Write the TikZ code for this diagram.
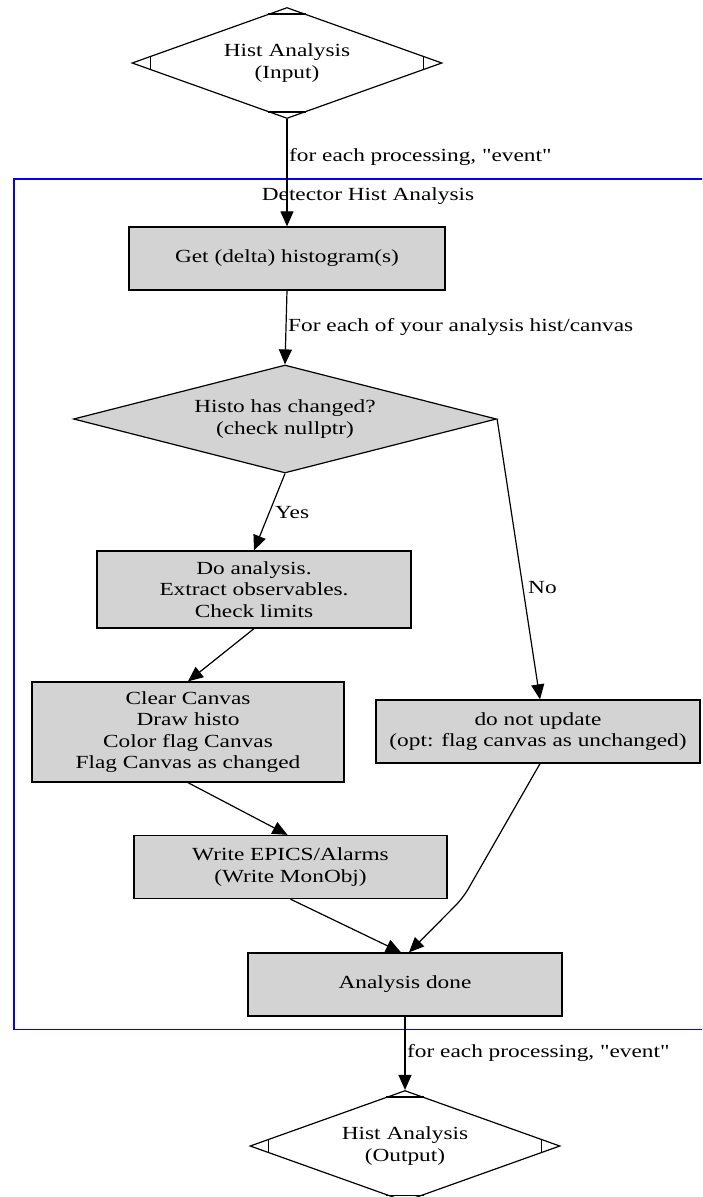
\documentclass[tikz,border=0pt]{standalone}
\usepackage{fontspec}
\setmainfont{Liberation Serif}[FakeStretch=1.26, Ligatures=TeXOff]
\usetikzlibrary{shapes.geometric,arrows.meta,calc}
\definecolor{boxgray}{RGB}{211,211,211}
\definecolor{clusterblue}{RGB}{0,0,255}
\tikzset{
  every node/.style={font=\fontsize{18.5}{21.5}\selectfont},
  stepbox/.style={rectangle, draw=black, line width=1.3pt, fill=boxgray,
                  inner sep=0pt, align=center},
  iodiamond/.style={diamond, draw=black, line width=1.2pt, inner sep=0pt,
                    aspect=2.8, align=center,
                    minimum width=310pt, minimum height=111pt},
  decision/.style={diamond, draw=black, line width=1.2pt, fill=boxgray,
                   inner sep=0pt, aspect=3.9, align=center,
                   minimum width=423pt, minimum height=108pt},
  flow/.style={draw=black, line width=1.2pt,
               -{Triangle[length=15pt,width=13pt]}},
  edgelabel/.style={anchor=west, inner sep=0pt},
}
\begin{document}
\begin{tikzpicture}[x=1pt, y=-1pt]
  \useasboundingbox (0,0) rectangle (702,1197);
  \clip (0,0) rectangle (702,1197);

  % cluster frame and its title
  \draw[clusterblue, line width=1.6pt] (14,179) rectangle (722,1029.5);
  \node (clustertitle) at (368,196) {Detector Hist Analysis};

  % nodes
  \node[iodiamond] (in) at (287,63) {Hist Analysis\\(Input)};
  \node[stepbox, minimum width=316pt, minimum height=63pt] (get) at (287,258.5)
    {Get (delta) histogram(s)};
  \node[decision] (dec) at (285,419) {Histo has changed?\\(check nullptr)};
  \node[stepbox, minimum width=314pt, minimum height=77pt] (doan) at (254,589.5)
    {Do analysis.\\Extract observables.\\Check limits};
  \node[stepbox, minimum width=312pt, minimum height=100pt] (clear) at (188,732)
    {Clear Canvas\\Draw histo\\Color flag Canvas\\Flag Canvas as changed};
  \node[stepbox, minimum width=324pt, minimum height=63pt] (noup) at (538,731.5)
    {do not update\\(opt: flag canvas as unchanged)};
  \node[stepbox, minimum width=313pt, minimum height=63pt] (write) at (290.5,867)
    {Write EPICS/Alarms\\(Write MonObj)};
  \node[stepbox, minimum width=314pt, minimum height=63pt] (done) at (405,984.5)
    {Analysis done};
  \node[iodiamond] (out) at (405,1146) {Hist Analysis\\(Output)};

  % corner marks of the input/output diamonds
  \foreach \d in {in,out} {
    \draw[line width=1.2pt] ($(\d.north)!0.125!(\d.west)$) -- ($(\d.north)!0.125!(\d.east)$);
    \draw[line width=1.2pt] ($(\d.south)!0.125!(\d.west)$) -- ($(\d.south)!0.125!(\d.east)$);
    \draw[line width=1.2pt] ($(\d.west)!0.125!(\d.north)$) -- ($(\d.west)!0.125!(\d.south)$);
    \draw[line width=1.2pt] ($(\d.east)!0.125!(\d.north)$) -- ($(\d.east)!0.125!(\d.south)$);
  }

  % connectors
  \coordinate (nobend) at (463,898);
  \draw[flow] (in.south) -- (get.north);
  \draw[flow] (get.south) -- (dec.north);
  \draw[flow] (dec.south) -- (doan.north);
  \draw[flow] (dec.east) -- ($(noup.north)+(2,0)$);
  \draw[flow] (doan.south) -- (clear.north);
  \draw[flow] (clear.south) -- ($(write.north)+(-3,0)$);
  \draw[flow] (write.south) -- ($(done.north)+(-4,0)$);
  \draw[flow, rounded corners=10pt] ($(noup.south)+(2,0)$) -- (nobend) -- ($(done.north)+(4,0)$);
  \draw[flow] (done.south) -- (out.north);

  % connector labels
  \node[edgelabel] (lbltop) at (289,157) {for each processing, "event"};
  \node[edgelabel] (lbleach) at (288,327) {For each of your analysis hist/canvas};
  \node[edgelabel] (lblyes) at (275,513) {Yes};
  \node[edgelabel] (lblno) at (528,588) {No};
  \node[edgelabel] (lblbottom) at (407,1053) {for each processing, "event"};
\end{tikzpicture}
\end{document}
